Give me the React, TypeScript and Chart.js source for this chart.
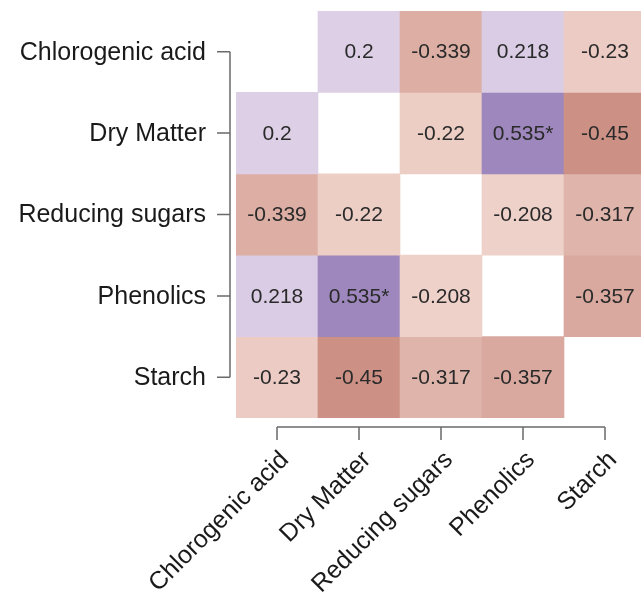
import React, { useEffect, useRef } from "react";
import { Chart, registerables } from "chart.js";

Chart.register(...registerables);

const variables = ["Chlorogenic acid", "Dry Matter", "Reducing sugars", "Phenolics", "Starch"];

const rowChlorogenic = [null, 0.2, -0.339, 0.218, -0.23];
const rowDryMatter = [0.2, null, -0.22, 0.535, -0.45];
const rowReducing = [-0.339, -0.22, null, -0.208, -0.317];
const rowPhenolics = [0.218, 0.535, -0.208, null, -0.357];
const rowStarch = [-0.23, -0.45, -0.317, -0.357, null];
const corrRows: (number | null)[][] = [rowChlorogenic, rowDryMatter, rowReducing, rowPhenolics, rowStarch];

// significant pairs [row, col]
const significantCells = [[1, 3], [3, 1]];

const FONT = '"Liberation Sans", Arial, Helvetica, sans-serif';

function lerp(a: number[], b: number[], t: number) {
  const c = Math.max(0, Math.min(1, t));
  return `rgb(${a.map((v, i) => Math.round(v + (b[i] - v) * c)).join(",")})`;
}

function cellColor(v: number) {
  if (v >= 0) {
    return lerp([221, 208, 230], [157, 135, 188], (v - 0.2) / (0.535 - 0.2));
  }
  return lerp([239, 211, 203], [204, 144, 133], (-v - 0.2) / (0.45 - 0.2));
}

function isSig(r: number, c: number) {
  return significantCells.some(([a, b]) => a === r && b === c);
}

const axesPlugin = {
  id: "rAxes",
  afterDatasetsDraw(chart: any) {
    const ctx = chart.ctx;
    const xs = chart.scales.x;
    const ys = chart.scales.y;
    // cell labels
    ctx.save();
    ctx.font = `21px ${FONT}`;
    ctx.fillStyle = "#2a2a2a";
    ctx.textAlign = "center";
    ctx.textBaseline = "middle";
    corrRows.forEach((row, r) => {
      const meta = chart.getDatasetMeta(r);
      row.forEach((v, c) => {
        if (v === null) return;
        const el = meta.data[c];
        const cx = el.x;
        const cy = (el.y + el.base) / 2;
        ctx.fillText(String(v) + (isSig(r, c) ? "*" : ""), cx, cy + 1);
      });
    });
    ctx.restore();

    // y axis
    ctx.save();
    ctx.strokeStyle = "#6a6a6a";
    ctx.lineWidth = 1.5;
    const yAxisX = 230;
    const y0 = ys.getPixelForValue(0);
    const y4 = ys.getPixelForValue(variables.length - 1);
    ctx.beginPath();
    ctx.moveTo(yAxisX, y0);
    ctx.lineTo(yAxisX, y4);
    variables.forEach((_, i) => {
      const y = ys.getPixelForValue(i);
      ctx.moveTo(yAxisX, y);
      ctx.lineTo(yAxisX - 13, y);
    });
    // x axis
    const xAxisY = 427;
    const x0 = xs.getPixelForValue(0);
    const x4 = xs.getPixelForValue(variables.length - 1);
    ctx.moveTo(x0, xAxisY);
    ctx.lineTo(x4, xAxisY);
    variables.forEach((_, i) => {
      const x = xs.getPixelForValue(i);
      ctx.moveTo(x, xAxisY);
      ctx.lineTo(x, xAxisY + 13);
    });
    ctx.stroke();

    ctx.fillStyle = "#1a1a1a";
    ctx.font = `25px ${FONT}`;
    ctx.textAlign = "right";
    ctx.textBaseline = "middle";
    variables.forEach((lab, i) => {
      ctx.fillText(lab, 206, ys.getPixelForValue(i) + 1);
    });
    variables.forEach((lab, i) => {
      const x = xs.getPixelForValue(i);
      ctx.save();
      ctx.translate(x + 8, 456);
      ctx.rotate(-Math.PI / 4);
      ctx.fillText(lab, 0, 0);
      ctx.restore();
    });
    ctx.restore();
  },
};

export default function App() {
  const ref = useRef<HTMLCanvasElement | null>(null);
  useEffect(() => {
    if (!ref.current) return;
    const datasets = corrRows.map((row, r) => ({
      label: variables[r],
      data: row.map((v) => (v === null ? null : [r - 0.5, r + 0.5])),
      backgroundColor: row.map((v) => (v === null ? "rgba(0,0,0,0)" : cellColor(v))),
      borderWidth: 0,
      grouped: false,
      barPercentage: 1,
      categoryPercentage: 1,
    }));
    const chart = new Chart(ref.current, {
      type: "bar",
      data: { labels: variables, datasets: datasets as any },
      options: {
        animation: false,
        responsive: false,
        devicePixelRatio: 1,
        layout: { padding: { left: 236, right: 14, top: 11, bottom: 178 } },
        plugins: { legend: { display: false }, tooltip: { enabled: false } },
        scales: {
          x: { type: "category", display: false, offset: true, grid: { display: false } },
          y: { type: "linear", display: false, min: -0.5, max: 4.5, reverse: true },
        },
      },
      plugins: [axesPlugin],
    });
    return () => chart.destroy();
  }, []);
  return (
    <div
      style={{
        position: "fixed",
        left: 0,
        top: 0,
        width: 641,
        height: 596,
        overflow: "hidden",
        background: "#fff",
      }}
    >
      <canvas ref={ref} width={660} height={596} style={{ display: "block", width: 660, height: 596 }} />
    </div>
  );
}
